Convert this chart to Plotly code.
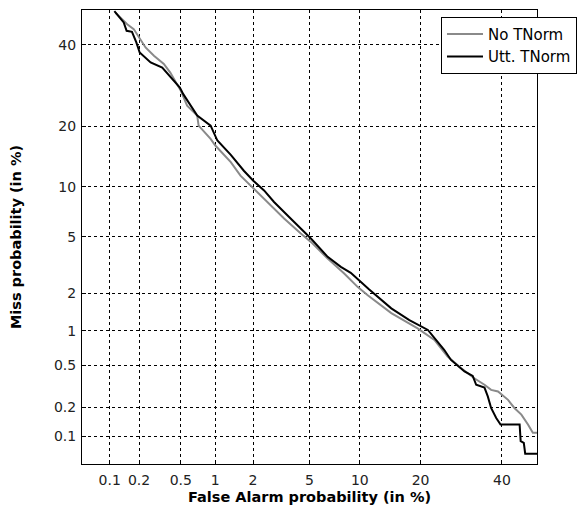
from statistics import NormalDist
import plotly.graph_objects as go

# DET curve values (percent)
no_tnorm_fa = [0.115, 0.152, 0.177, 0.207, 0.232, 0.28, 0.348, 0.40, 0.50, 0.57, 0.70, 0.72,
               0.913, 1.0, 1.34, 1.6, 2.03, 2.56, 3.37, 4.38, 5.1, 6.5, 8.16, 9.72, 11.0,
               14.6, 19.4, 22.9, 25.9, 29.2, 32.5, 35.2, 37.0, 38.9, 41.7, 43.5, 45.5, 47.4,
               48.8, 50.0]
no_tnorm_miss = [49.2, 45.9, 44.5, 41.6, 39.3, 37.0, 34.8, 32.5, 27.9, 24.4, 22.2, 20.1,
                 17.5, 16.3, 13.5, 11.5, 9.77, 8.2, 6.53, 5.26, 4.64, 3.58, 2.81, 2.24, 1.94,
                 1.40, 1.05, 0.84, 0.60, 0.47, 0.38, 0.33, 0.295, 0.285, 0.236, 0.196, 0.168,
                 0.133, 0.109, 0.109]

utt_tnorm_fa = [0.112, 0.14, 0.15, 0.17, 0.188, 0.203, 0.26, 0.336, 0.49, 0.526, 0.70, 0.913,
                1.04, 1.34, 1.70, 2.01, 2.42, 2.86, 3.65, 5.1, 6.5, 7.8, 8.9, 11.25, 14.6,
                17.8, 21.5, 25.1, 26.7, 30.0, 32.1, 33.0, 35.2, 36.1, 37.0, 38.4, 39.6, 45.0,
                45.3, 46.2, 46.6, 50.0]
utt_tnorm_miss = [49.7, 46.4, 44.0, 43.7, 40.7, 37.9, 35.2, 33.8, 28.7, 27.1, 22.2, 20.1,
                  17.2, 14.7, 12.2, 10.8, 9.55, 8.2, 6.67, 4.88, 3.68, 3.13, 2.84, 2.14, 1.53,
                  1.23, 1.02, 0.69, 0.56, 0.44, 0.40, 0.33, 0.31, 0.255, 0.196, 0.155, 0.133,
                  0.133, 0.089, 0.085, 0.065, 0.065]

tick_vals = [0.1, 0.2, 0.5, 1, 2, 5, 10, 20, 40]
tick_text = ["0.1", "0.2", "0.5", "1", "2", "5", "10", "20", "40"]
axis_range_pct = [0.05, 50]

nd = NormalDist()


def probit(vals):
    return [nd.inv_cdf(v / 100.0) for v in vals]


fig = go.Figure()
fig.add_trace(go.Scatter(x=probit(no_tnorm_fa), y=probit(no_tnorm_miss), mode="lines",
                         name="No TNorm", line=dict(color="#8a8a8a", width=2)))
fig.add_trace(go.Scatter(x=probit(utt_tnorm_fa), y=probit(utt_tnorm_miss), mode="lines",
                         name="Utt. TNorm", line=dict(color="#000000", width=2)))

FAM = "DejaVu Sans, Verdana, sans-serif"
font = dict(family=FAM, size=14, color="#222222")
axis_common = dict(
    tickvals=probit(tick_vals), ticktext=tick_text, range=probit(axis_range_pct),
    showgrid=True, gridcolor="#000000", gridwidth=1, griddash="3px,3px",
    showline=True, linecolor="#000000", linewidth=1, mirror=True,
    ticks="inside", ticklen=4, tickcolor="#000000", zeroline=False,
    tickfont=font, automargin=False,
)
fig.update_xaxes(**axis_common, ticklabelstandoff=3,
                 title=dict(text="<b>False Alarm probability (in %)</b>",
                            font=dict(family=FAM, size=14.5, color="#000000"), standoff=5))
fig.update_yaxes(**axis_common, ticklabelstandoff=2,
                 title=dict(text="<b>Miss probability (in %)</b>",
                            font=dict(family=FAM, size=14.5, color="#000000"), standoff=28))

fig.update_layout(
    width=585, height=510,
    margin=dict(l=74, r=56, t=2, b=54),
    paper_bgcolor="white", plot_bgcolor="white",
    font=font,
    legend=dict(x=0.789, y=0.985, xanchor="left", yanchor="top",
                bgcolor="white", bordercolor="#000000", borderwidth=1,
                font=dict(family=FAM, size=15, color="#000000"),
                tracegroupgap=0, itemwidth=36,
                entrywidth=160, entrywidthmode="pixels"),
    showlegend=True,
)

fig.write_html("out.html")
